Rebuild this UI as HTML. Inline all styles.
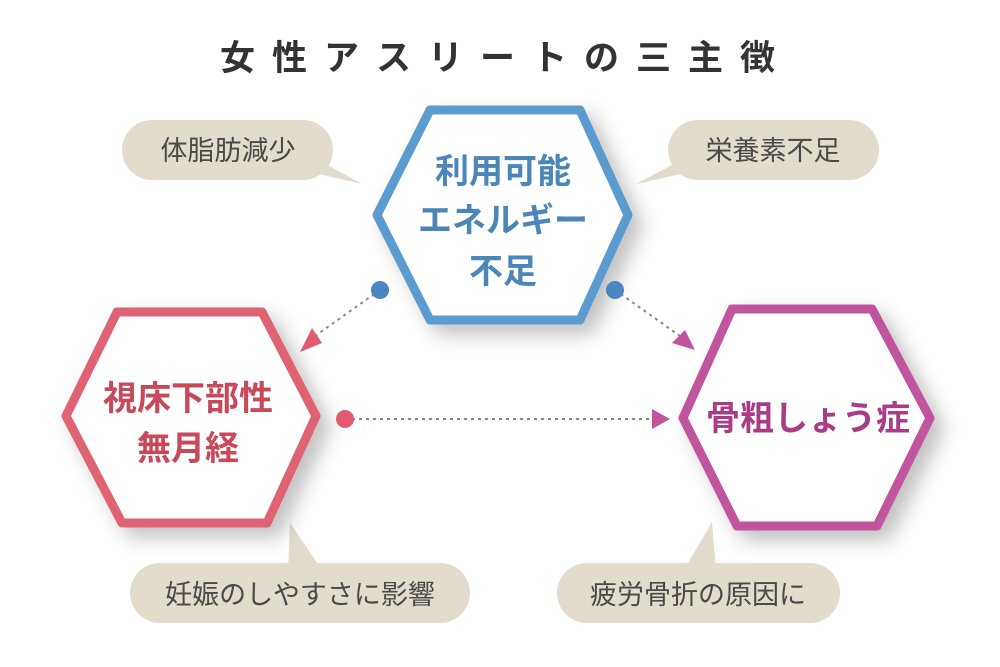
<!DOCTYPE html>
<html><head><meta charset="utf-8"><style>
html,body{margin:0;padding:0;background:#fff;}
svg{display:block;}
text{font-family:"Liberation Sans","Noto Sans CJK JP",sans-serif;}
</style></head><body>
<svg width="1000" height="667" viewBox="0 0 1000 667" xmlns="http://www.w3.org/2000/svg">
<defs>
<filter id="sh" x="-30%" y="-30%" width="160%" height="160%">
<feGaussianBlur in="SourceAlpha" stdDeviation="10"/>
<feOffset dx="10" dy="10"/>
<feComponentTransfer><feFuncA type="linear" slope="0.25"/></feComponentTransfer>
<feMerge><feMergeNode/><feMergeNode in="SourceGraphic"/></feMerge>
</filter>
</defs>
<rect width="1000" height="667" fill="#fff"/>
<text x="506" y="70" text-anchor="middle" font-size="35" font-weight="bold" fill="#333" letter-spacing="17">女性アスリートの三主徴</text>

<!-- bubbles -->
<g fill="#e2dccc">
<rect x="122" y="120" width="211" height="60" rx="30"/>
<polygon points="300,150 362,184 310,172"/>
<rect x="668" y="120" width="211" height="60" rx="30"/>
<polygon points="700,150 636,184 690,172"/>
<rect x="130" y="563" width="340" height="60" rx="30"/>
<polygon points="288,570 290,523 322,570"/>
<rect x="557" y="563" width="283" height="60" rx="30"/>
<polygon points="684,570 712,522 716,570"/>
</g>
<g font-size="27" fill="#4a4a4a" text-anchor="middle">
<text x="228" y="160">体脂肪減少</text>
<text x="773" y="160">栄養素不足</text>
<text x="300" y="604">妊娠のしやすさに影響</text>
<text x="698" y="604">疲労骨折の原因に</text>
</g>

<!-- hexagons -->
<g filter="url(#sh)" stroke-width="9" stroke-linejoin="round" fill="#fff">
<polygon points="430,110 580,110 628,215 580,320 430,320 377,215" stroke="#5b9bd0"/>
<polygon points="117,312 262,312 316,416 267,523 122,523 66,416" stroke="#e06373"/>
<polygon points="732,309 872,309 930,418 877,526 737,526 683,418" stroke="#c0559e"/>
</g>
<g font-size="34" font-weight="bold" text-anchor="middle">
<text x="503" y="183" fill="#4a86b8">利用可能</text>
<text x="503" y="232" fill="#4a86b8">エネルギー</text>
<text x="503" y="283" fill="#4a86b8">不足</text>
<text x="188" y="410" fill="#c84a58">視床下部性</text>
<text x="188" y="460" fill="#c84a58">無月経</text>
<text x="808" y="430" fill="#a83c86">骨粗しょう症</text>
</g>

<!-- connectors -->
<g stroke="#888" stroke-width="2" stroke-dasharray="3,4" fill="none">
<line x1="380" y1="290" x2="315" y2="336"/>
<line x1="615" y1="290" x2="680" y2="336"/>
<line x1="345" y1="419" x2="652" y2="419"/>
</g>
<circle cx="380" cy="290" r="9" fill="#4a86c0"/>
<circle cx="615" cy="290" r="9" fill="#4a86c0"/>
<circle cx="345" cy="419" r="9" fill="#e05a70"/>
<polygon points="300,352 322,343 312,328" fill="#e05a70"/>
<polygon points="695,350 672,343 685,330" fill="#c0559e"/>
<polygon points="670,419 652,409 652,429" fill="#c0559e"/>
</svg>
</body></html>
